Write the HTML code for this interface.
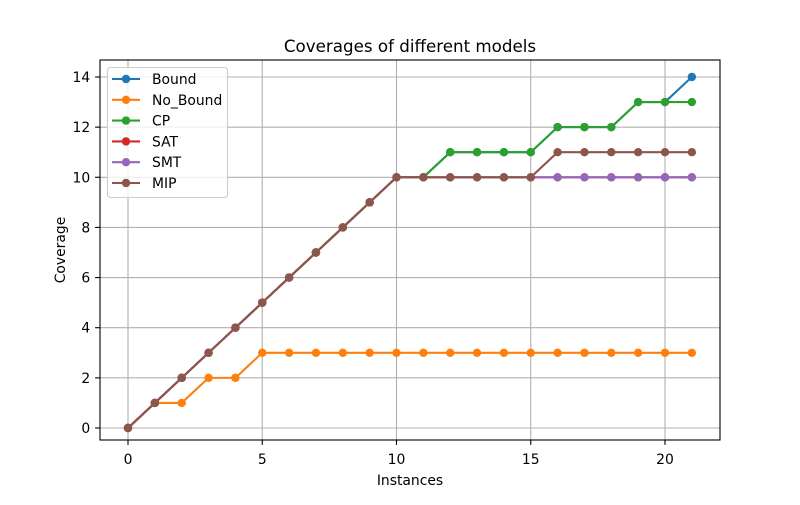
<!DOCTYPE html>
<html><head><meta charset="utf-8"><style>
body{margin:0;background:#fff}
text{font-family:"DejaVu Sans","Liberation Sans",sans-serif}
</style></head><body>
<svg id="chart" width="800" height="500" xmlns="http://www.w3.org/2000/svg">
<rect width="800" height="500" fill="#fff"/>
<g id="grid"></g>
<g id="axes"></g>
<g id="series"></g>
<g id="legend"></g>
<text x="410" y="52" text-anchor="middle" font-size="16.7">Coverages of different models</text>
<text x="410" y="485" text-anchor="middle" font-size="13.9">Instances</text>
<text x="0" y="0" transform="translate(65,250) rotate(-90)" text-anchor="middle" font-size="13.9">Coverage</text>
</svg>
<script>
const seriesNames = ["Bound","No_Bound","CP","SAT","SMT","MIP"];
const colors = ["#1f77b4","#ff7f0e","#2ca02c","#d62728","#9467bd","#8c564b"];
const xTicks = [0,5,10,15,20];
const yTicks = [0,2,4,6,8,10,12,14];
const bound   = [0,1,2,3,4,5,6,7,8,9,10,10,11,11,11,11,12,12,12,13,13,14];
const noBound = [0,1,1,2,2,3,3,3,3,3,3,3,3,3,3,3,3,3,3,3,3,3];
const cp      = [0,1,2,3,4,5,6,7,8,9,10,10,11,11,11,11,12,12,12,13,13,13];
const sat     = [0,1,2,3,4,5,6,7,8,9,10,10,10,10,10,10,10,10,10,10,10,10];
const smt     = [0,1,2,3,4,5,6,7,8,9,10,10,10,10,10,10,10,10,10,10,10,10];
const mip     = [0,1,2,3,4,5,6,7,8,9,10,10,10,10,10,10,11,11,11,11,11,11];
const allSeries = [bound,noBound,cp,sat,smt,mip];

const NS="http://www.w3.org/2000/svg";
const L=100,R=720,T=60,B=440;
const xs=v=>128+v*(665-128)/20;
const ys=v=>428-v*(428-77)/14;
function mk(tag,attrs,parent){const e=document.createElementNS(NS,tag);for(const k in attrs)e.setAttribute(k,attrs[k]);parent.appendChild(e);return e;}
const grid=document.getElementById('grid'),axes=document.getElementById('axes'),ser=document.getElementById('series'),leg=document.getElementById('legend');
xTicks.forEach(t=>{
  const g=mk('line',{x1:xs(t),x2:xs(t),y1:T,y2:B,stroke:'#b0b0b0','stroke-width':1.1},grid);
  
  
  mk('line',{x1:xs(t),x2:xs(t),y1:B,y2:B+4.9,stroke:'#000','stroke-width':1.1},axes);
  const tx=mk('text',{x:xs(t),y:B+24,'text-anchor':'middle','font-size':13.9},axes);tx.textContent=t;
  
  
});
yTicks.forEach(t=>{
  const g=mk('line',{x1:L,x2:R,y1:ys(t),y2:ys(t),stroke:'#b0b0b0','stroke-width':1.1},grid);
  
  
  mk('line',{x1:L-4.9,x2:L,y1:ys(t),y2:ys(t),stroke:'#000','stroke-width':1.1},axes);
  const tx=mk('text',{x:L-9.8,y:ys(t)+5,'text-anchor':'end','font-size':13.9},axes);tx.textContent=t;
  
  
});
const fr=mk('rect',{x:L,y:T,width:R-L,height:B-T,fill:'none',stroke:'#000','stroke-width':1.1},axes);


allSeries.forEach((d,i)=>{
  const g=mk('g',{},ser);
  
  
  mk('polyline',{points:d.map((v,j)=>xs(j)+','+ys(v)).join(' '),fill:'none',stroke:colors[i],'stroke-width':2.08},g);
  d.forEach((v,j)=>{
    const c=mk('circle',{cx:xs(j),cy:ys(v),r:4.2,fill:colors[i]},g);
    
    
  });
});
const lb=mk('rect',{x:107.5,y:67.5,width:120,height:130,rx:3,fill:'#fff','fill-opacity':0.8,stroke:'#ccc','stroke-width':1.1},leg);


seriesNames.forEach((n,i)=>{
  const y=79+i*20.8;
  const g=mk('g',{},leg);
  
  
  mk('line',{x1:112,x2:140,y1:y,y2:y,stroke:colors[i],'stroke-width':2.08},g);
  mk('circle',{cx:126,cy:y,r:4.2,fill:colors[i]},g);
  const t=mk('text',{x:152,y:y+5,'font-size':13.9},g);t.textContent=n;
});
</script>
</body></html>
